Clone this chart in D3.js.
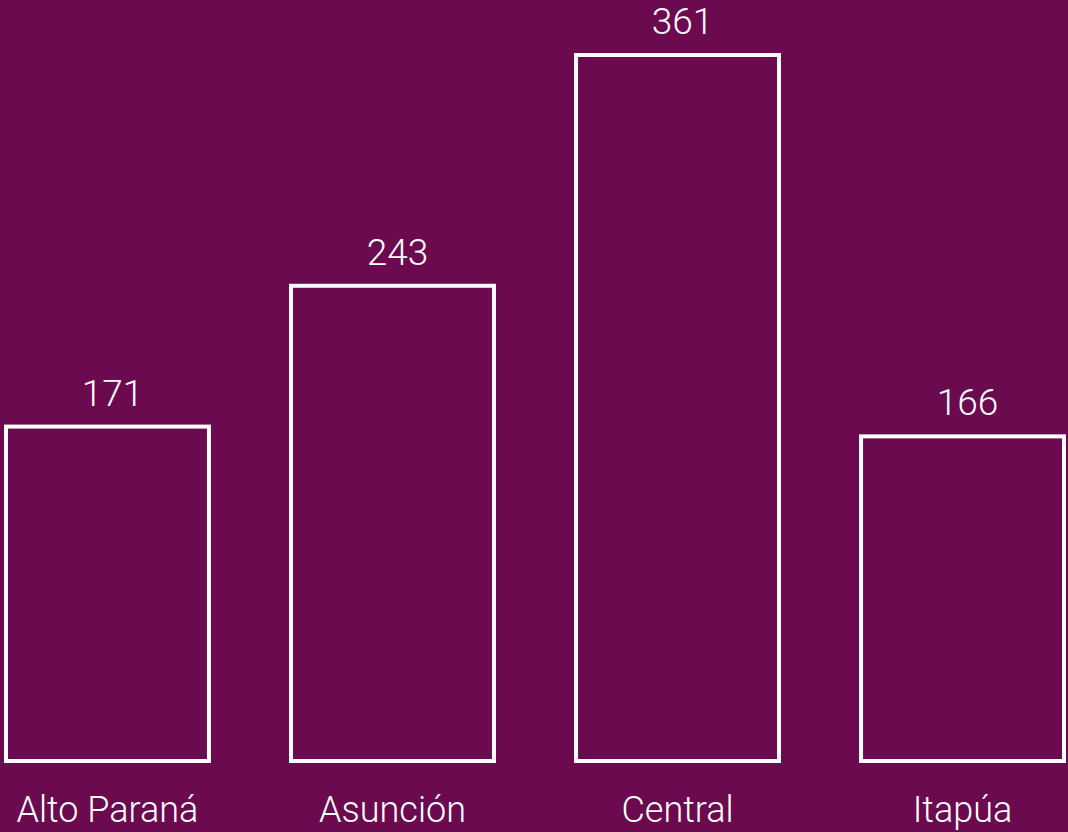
<!DOCTYPE html>
<html>
<head>
<meta charset="utf-8">
<script src="https://cdn.jsdelivr.net/npm/d3@7"></script>
<style>
  html, body { margin: 0; padding: 0; background: #6b0a4e; }
  svg { display: block; }
  text { font-family: Roboto, "Helvetica Neue", sans-serif; font-weight: 300; fill: #ffffff; }
</style>
</head>
<body>
<div id="graph"></div>
<script>
const departamentos = ["Alto Paraná", "Asunción", "Central", "Itapúa"];
const casos = [171, 243, 361, 166];

const w = 1068;
const h = 832;
const base = 761;

const svg = d3.select("#graph")
    .append("svg")
    .attr("width", w)
    .attr("height", h);

const x = d3.scaleBand()
    .domain(departamentos)
    .range([6, 1064])
    .paddingInner(0.288)
    .paddingOuter(0);

const y = d3.scaleLinear()
    .domain([0, 361])
    .range([base, 55]);

const data = departamentos.map((d, i) => ({ name: d, value: casos[i] }));

svg.selectAll("rect")
    .data(data)
    .enter()
    .append("rect")
    .attr("x", d => x(d.name))
    .attr("y", d => y(d.value))
    .attr("width", x.bandwidth())
    .attr("height", d => base - y(d.value))
    .attr("fill", "none")
    .attr("stroke", "#ffffff")
    .attr("stroke-width", 4);

// valores arriba de cada barra
svg.selectAll("text.valor")
    .data(data)
    .enter()
    .append("text")
    .attr("class", "valor")
    .attr("x", d => x(d.name) + x.bandwidth() / 2 + 5)
    .attr("y", d => y(d.value) - 21)
    .attr("text-anchor", "middle")
    .style("font-size", "37px")
    .text(d => d.value);

// eje x sin lineas
const eje = svg.append("g")
    .attr("transform", "translate(0," + base + ")")
    .call(d3.axisBottom(x).tickSize(0).tickPadding(0));
eje.select(".domain").remove();
eje.selectAll("text")
    .attr("y", 61)
    .attr("dy", 0)
    .style("font-size", "36px")
    .style("font-family", 'Roboto, "Helvetica Neue", sans-serif')
    .style("font-weight", 300)
    .attr("fill", "#ffffff");
</script>
</body>
</html>
